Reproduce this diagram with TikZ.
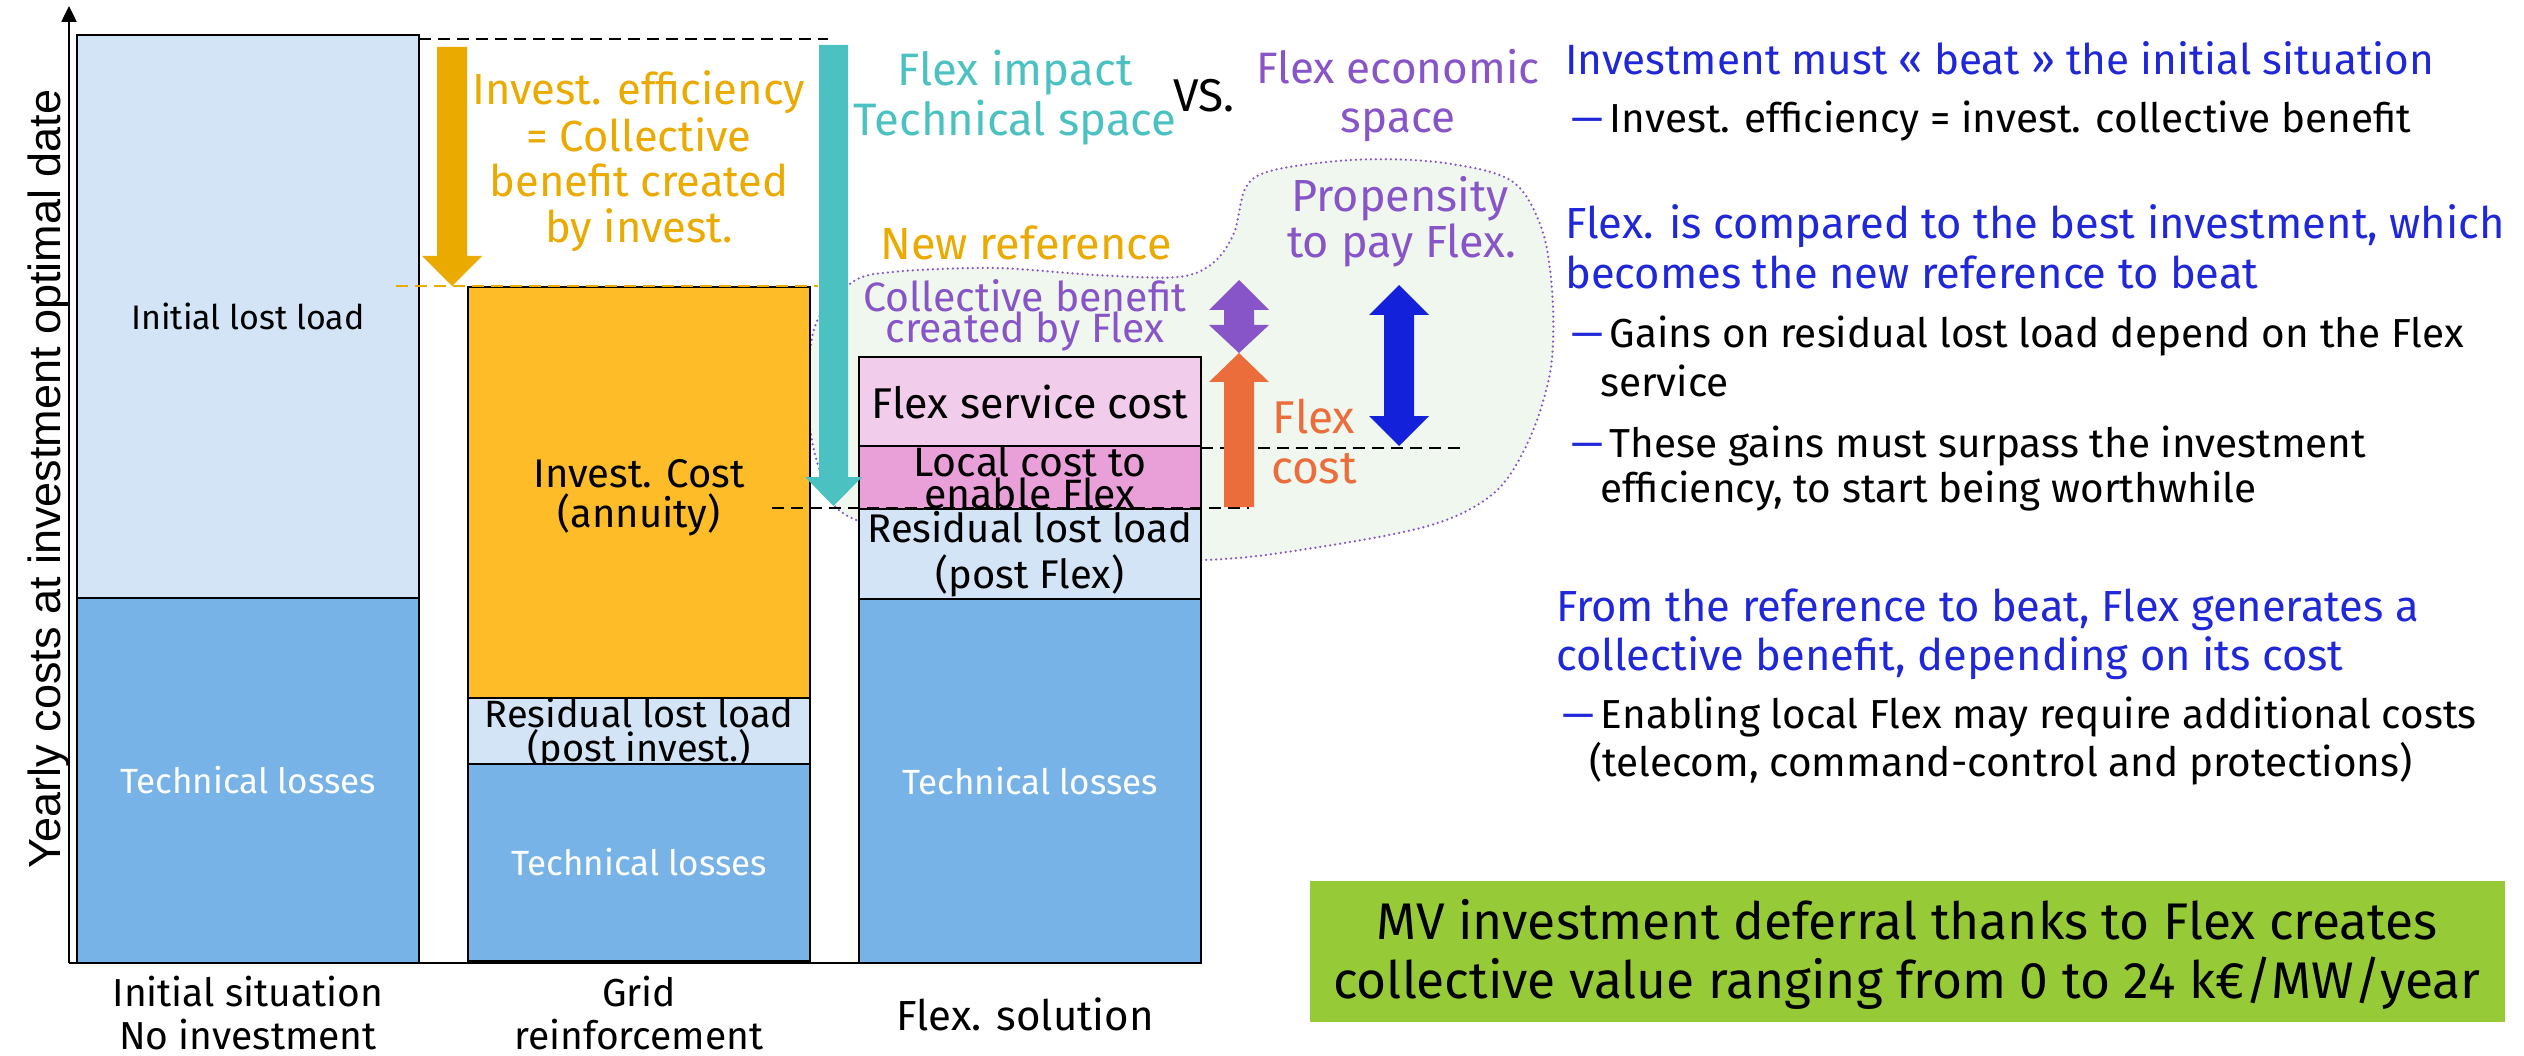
\documentclass[tikz,border=0pt]{standalone}
\usepackage{fontspec}
\setmainfont{Fira Sans}
\newfontfamily\axisfont{Liberation Sans}
\usetikzlibrary{arrows.meta}
\definecolor{lb}{HTML}{D2E4F5}
\definecolor{mb}{HTML}{77B3E6}
\definecolor{ob}{HTML}{FDBC28}
\definecolor{gd}{HTML}{EAAA00}
\definecolor{tl}{HTML}{4BC2C1}
\definecolor{pu}{HTML}{8855C8}
\definecolor{co}{HTML}{EC6D3C}
\definecolor{ba}{HTML}{1421DA}
\definecolor{bt}{HTML}{1F27D9}
\definecolor{lp}{HTML}{F2CDEB}
\definecolor{pk}{HTML}{E9A0D8}
\definecolor{gr}{HTML}{96CA36}
\definecolor{bf}{HTML}{F0F7EE}
\newcommand\fsz[2]{\fontsize{#1}{#2}\selectfont}
\begin{document}
\begin{tikzpicture}[x=1pt,y=-1pt,
  bar/.style={draw=black, line width=1.5pt, minimum width=342pt, inner sep=0pt, align=center},
  lbl/.style={inner sep=0pt, anchor=base, align=center},
  lw/.style={inner sep=0pt, anchor=base west},
  dashline/.style={line width=2.5pt, dash pattern=on 12pt off 7pt},
  blob/.style={draw=pu, fill=bf, line width=2.5pt, line cap=round, dash pattern=on 0pt off 5pt}]
\useasboundingbox (0,0) rectangle (2524,1056);

% economic space blob
\draw[blob] plot[smooth cycle, tension=0.55] coordinates {
 (856,520) (821,473) (808,406) (815,326) (851,283) (892,272) (994,268) (1096,275)
 (1178,277) (1213,263) (1234,233) (1246,187) (1274,170) (1351,160) (1427,161)
 (1494,173) (1524,193) (1545,240) (1553,307) (1550,373) (1529,440) (1494,493)
 (1428,526) (1300,550) (1203,560) (1030,560)};

% bars
\node[bar, fill=lb, minimum height=563pt, font=\fsz{34}{40}] (b1a) at (248,316.5) {Initial lost load};
\node[bar, fill=mb, minimum height=365pt, font=\fsz{35}{40}, text=white] (b1b) at (248,780.5) {Technical losses};
\node[bar, fill=ob, minimum height=416pt] (b2a) at (639,495) {};
\node[bar, fill=lb, minimum height=61pt, font=\fsz{38}{26}] (b2b) at (639,733.5) {Residual lost load\\(post invest.)};
\node[bar, fill=mb, minimum height=197pt, font=\fsz{35}{40}, text=white] (b2c) at (639,862.5) {Technical losses};
\node[bar, fill=lp, minimum height=89pt, font=\fsz{43}{46}] (b3a) at (1030,401.5) {Flex service cost};
\node[bar, fill=pk, minimum height=63pt, font=\fsz{41}{31}] (b3b) at (1030,477.5) {Local cost to\\enable Flex};
\node[bar, fill=lb, minimum height=90pt, font=\fsz{40}{46}] (b3c) at (1030,554) {Residual lost load\\(post Flex)};
\node[bar, fill=mb, minimum height=364pt, font=\fsz{35}{40}, text=white] (b3d) at (1030,781) {Technical losses};
\node[lbl, font=\fsz{40}{44}] (ic1) at (639,487) {Invest. Cost};
\node[lbl, font=\fsz{40}{44}] (ic2) at (639,527) {(annuity)};

% axes
\coordinate (origin) at (69,963);
\coordinate (ytop) at (69,6);
\coordinate (xend) at (1201,963);
\draw[line width=2.5pt, -{Triangle[length=16pt,width=15pt]}] (origin) -- (ytop);
\draw[line width=2.5pt] (origin) -- (xend);
\node[inner sep=0pt, anchor=base, rotate=90, font=\axisfont\fsz{45}{50}] (ylab) at (60,479) {Yearly costs at investment optimal date};

% reference lines
\coordinate (t1) at (419,39); \coordinate (t2) at (828,39);
\coordinate (g1) at (396,286); \coordinate (g2) at (818,286);
\coordinate (k1) at (772,508); \coordinate (k2) at (1249,508);
\coordinate (m1) at (1201,448); \coordinate (m2) at (1466,448);
\draw[dashline] (t1) -- (t2);
\draw[dashline, gd] (g1) -- (g2);
\draw[dashline] (k1) -- (k2);
\draw[dashline] (m1) -- (m2);

% block arrows
\fill[gd] (437,47) -- (467,47) -- (467,256) -- (482,256) -- (452,286) -- (422,256) -- (437,256) -- cycle;
\fill[tl] (819,45) -- (848,45) -- (848,477) -- (862,477) -- (833.5,506) -- (805,477) -- (819,477) -- cycle;
\fill[pu] (1239,280) -- (1269,310) -- (1254,310) -- (1254,325) -- (1269,325) -- (1239,353) -- (1209,325) -- (1224,325) -- (1224,310) -- (1209,310) -- cycle;
\fill[co] (1239,353) -- (1269,382) -- (1254,382) -- (1254,507) -- (1224,507) -- (1224,382) -- (1209,382) -- cycle;
\fill[ba] (1399,285) -- (1429,315) -- (1414,315) -- (1414,416) -- (1429,416) -- (1399,446) -- (1369,416) -- (1384,416) -- (1384,315) -- (1369,315) -- cycle;

% left labels
\node[lbl, text=gd, font=\fsz{43.5}{46}] (ie1) at (639,105) {Invest. efficiency};
\node[lbl, text=gd, font=\fsz{43.5}{46}] (ie2) at (639,152) {= Collective};
\node[lbl, text=gd, font=\fsz{43.5}{46}] (ie3) at (639,197) {benefit created};
\node[lbl, text=gd, font=\fsz{43.5}{46}] (ie4) at (639,243) {by invest.};
\node[lbl, text=tl, font=\fsz{45.5}{50}] (fi1) at (1015,86) {Flex impact};
\node[lbl, text=tl, font=\fsz{45.5}{50}] (fi2) at (1015,136) {Technical space};
\node[lbl, font=\fsz{46}{50}] (vs) at (1204,112) {VS.};
\node[lbl, text=pu, font=\fsz{44}{50}] (fe1) at (1398,84) {Flex economic};
\node[lbl, text=pu, font=\fsz{44}{50}] (fe2) at (1398,133) {space};
\node[lbl, text=gd, font=\fsz{45}{50}] (nr) at (1026,260) {New reference};
\node[lbl, text=pu, font=\fsz{41}{42}] (cb1) at (1025,311.5) {Collective benefit};
\node[lbl, text=pu, font=\fsz{41}{42}] (cb2) at (1025,343) {created by Flex};
\node[lbl, text=pu, font=\fsz{45}{46}] (pp1) at (1400,211.5) {Propensity};
\node[lbl, text=pu, font=\fsz{45}{46}] (pp2) at (1402,258) {to pay Flex.};
\node[lbl, text=co, font=\fsz{46}{50}] (fc1) at (1314,433) {Flex};
\node[lbl, text=co, font=\fsz{46}{50}] (fc2) at (1314,483) {cost};
\node[lbl, font=\fsz{39}{44}] (x1a) at (248,1006) {Initial situation};
\node[lbl, font=\fsz{39}{44}] (x1b) at (248,1049) {No investment};
\node[lbl, font=\fsz{39}{44}] (x2a) at (639,1006) {Grid};
\node[lbl, font=\fsz{39}{44}] (x2b) at (639,1049) {reinforcement};
\node[lbl, font=\fsz{42}{44}] (x3) at (1025,1030) {Flex. solution};

% right column
\node[lw, text=bt, font=\fsz{42.3}{50}] (h1) at (1565,74.6) {Investment must « beat » the initial situation};
\node[lw, font=\fsz{40.5}{46}] (p1) at (1571,133) {\textcolor{bt}{—}\,Invest. efficiency = invest. collective benefit};
\node[lw, text=bt, font=\fsz{43.5}{50}] (h2a) at (1565,239) {Flex. is compared to the best investment, which};
\node[lw, text=bt, font=\fsz{43.5}{50}] (h2b) at (1565,288.5) {becomes the new reference to beat};
\node[lw, font=\fsz{40.5}{46}] (p2a) at (1571,348) {\textcolor{bt}{—}\,Gains on residual lost load depend on the Flex};
\node[lw, font=\fsz{40.5}{46}] (p2b) at (1600,396) {service};
\node[lw, font=\fsz{40.5}{46}] (p3a) at (1571,457.6) {\textcolor{bt}{—}\,These gains must surpass the investment};
\node[lw, font=\fsz{40.5}{46}] (p3b) at (1600,502) {efficiency, to start being worthwhile};
\node[lw, text=bt, font=\fsz{43.5}{50}] (h3a) at (1556,621) {From the reference to beat, Flex generates a};
\node[lw, text=bt, font=\fsz{43.5}{50}] (h3b) at (1556,670) {collective benefit, depending on its cost};
\node[lw, font=\fsz{40.5}{46}] (p4a) at (1562,728.5) {\textcolor{bt}{—}\,Enabling local Flex may require additional costs};
\node[lw, font=\fsz{40.5}{46}] (p4b) at (1589,776) {(telecom, command-control and protections)};

% conclusion box
\node[fill=gr, minimum width=1195pt, minimum height=141pt, inner sep=0pt] (concl) at (1907.5,951) {};
\node[lbl, font=\fsz{51.5}{58}] (c1) at (1907,939.7) {MV investment deferral thanks to Flex creates};
\node[lbl, font=\fsz{51.5}{58}] (c2) at (1907,998) {collective value ranging from 0 to 24 k€/MW/year};
\end{tikzpicture}
\end{document}
